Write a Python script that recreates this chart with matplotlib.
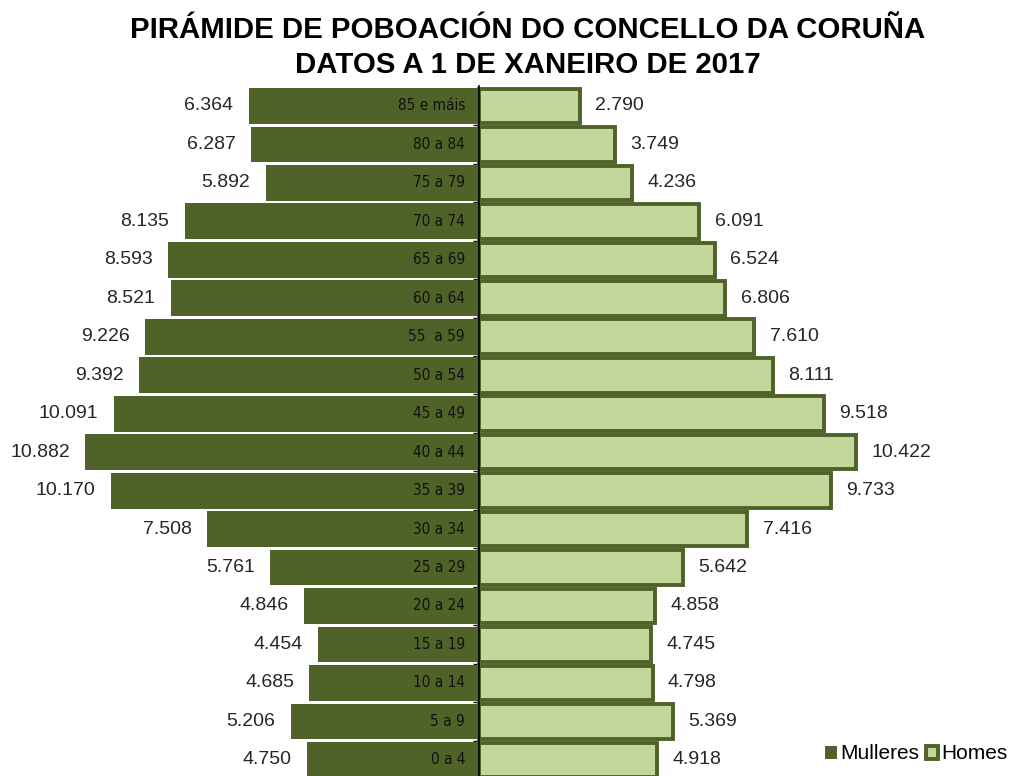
import matplotlib.pyplot as plt

plt.rcParams['font.family'] = ['Liberation Sans', 'DejaVu Sans']

idades = ["0 a 4", "5 a 9", "10 a 14", "15 a 19", "20 a 24", "25 a 29", "30 a 34",
          "35 a 39", "40 a 44", "45 a 49", "50 a 54", "55  a 59", "60 a 64",
          "65 a 69", "70 a 74", "75 a 79", "80 a 84", "85 e máis"]
mulleres = [4750, 5206, 4685, 4454, 4846, 5761, 7508, 10170, 10882, 10091,
            9392, 9226, 8521, 8593, 8135, 5892, 6287, 6364]
homes = [4918, 5369, 4798, 4745, 4858, 5642, 7416, 9733, 10422, 9518,
         8111, 7610, 6806, 6524, 6091, 4236, 3749, 2790]

escuro = "#4F6228"
claro = "#C3D69B"


def fmt(v):
    return f"{v:,}".replace(",", ".")


fig = plt.figure(figsize=(10.11, 7.76), dpi=100)
ax = fig.add_axes([0, 0, 1, 690 / 776])

y = list(range(len(idades)))
ax.barh(y, [-m for m in mulleres], height=0.93, color=escuro, label="Mulleres", zorder=2)
ax.barh(y, homes, height=0.9, color=claro, edgecolor=escuro, linewidth=2.8,
        label="Homes", zorder=2)

for i in y:
    ax.annotate(fmt(mulleres[i]), (-mulleres[i], i), xytext=(-11, 0),
                textcoords="offset points", ha="right", va="center", fontsize=14,
                color="#262626")
    ax.annotate(fmt(homes[i]), (homes[i], i), xytext=(11, 0),
                textcoords="offset points", ha="left", va="center", fontsize=14,
                color="#262626")
    ax.annotate(idades[i], (0, i), xytext=(-10, 0), textcoords="offset points",
                ha="right", va="center", fontsize=11, color="#111111", zorder=4,
                family=["Liberation Sans Narrow", "DejaVu Sans"], fontstretch="condensed")

ax.set_xlim(-13232, 14696)
ax.set_ylim(-0.42, 17.52)

for s in ["top", "right", "bottom"]:
    ax.spines[s].set_visible(False)
ax.spines["left"].set_position(("data", 0))
ax.spines["left"].set_zorder(3)
ax.spines["left"].set_linewidth(1.2)
ax.set_xticks([])
ax.set_yticks([i + 0.5 for i in range(len(idades) - 1)])
ax.set_yticklabels([])
ax.tick_params(axis="y", length=4, width=1, color="#111111")

fig.suptitle("PIRÁMIDE DE POBOACIÓN DO CONCELLO DA CORUÑA\nDATOS A 1 DE XANEIRO DE 2017",
             x=0.522, y=0.979, fontsize=21.2, fontweight="bold", linespacing=1.3)

ax.legend(loc="lower right", bbox_to_anchor=(1.013, -0.006), frameon=False, fontsize=15,
          handlelength=0.6, handleheight=0.6, handletextpad=0.15, columnspacing=0.3,
          ncol=2, borderpad=0.3)

fig.savefig("out.png", dpi=100)
